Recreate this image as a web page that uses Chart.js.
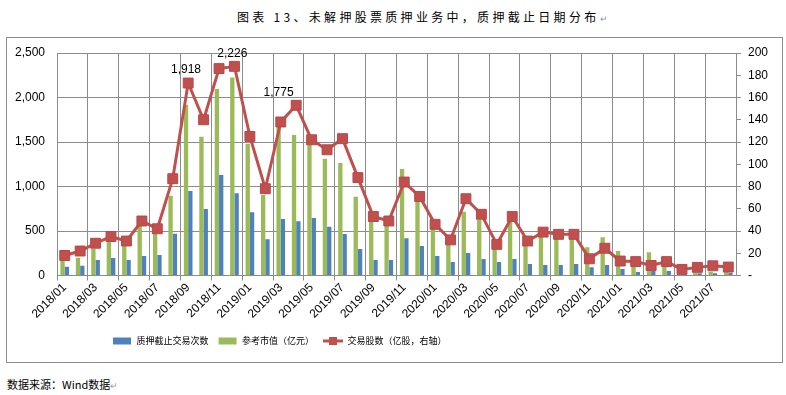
<!DOCTYPE html>
<html>
<head>
<meta charset="utf-8">
<script src="https://cdn.jsdelivr.net/npm/chart.js@4/dist/chart.umd.min.js"></script>
<style>
body { margin: 0; background: #fff; width: 786px; height: 395px; position: relative; overflow: hidden; font-family: "Noto Sans CJK SC", sans-serif; color: #000; }
#title { position: absolute; left: 237px; top: 8px; font-size: 12px; letter-spacing: 3.3px; white-space: nowrap; }
#box { position: absolute; left: 6px; top: 37px; width: 775px; height: 324px; border: 1px solid #8c8c8c; }
#box canvas { display: block; }
#src { position: absolute; left: 7px; top: 376px; font-size: 11px; white-space: nowrap; }
.mark { color: #999; font-size: 9px; }
</style>
</head>
<body>
<div id="title">图表 13、未解押股票质押业务中，质押截止日期分布<span class="mark">↵</span></div>
<div id="box"><canvas id="myChart" width="775" height="324"></canvas></div>
<div id="src">数据来源：Wind数据<span class="mark">↵</span></div>
<script>
// eje X: meses
var months = ['2018/01','2018/02','2018/03','2018/04','2018/05','2018/06','2018/07','2018/08','2018/09','2018/10','2018/11','2018/12',
              '2019/01','2019/02','2019/03','2019/04','2019/05','2019/06','2019/07','2019/08','2019/09','2019/10','2019/11','2019/12',
              '2020/01','2020/02','2020/03','2020/04','2020/05','2020/06','2020/07','2020/08','2020/09','2020/10','2020/11','2020/12',
              '2021/01','2021/02','2021/03','2021/04','2021/05','2021/06','2021/07','2021/08'];
// 质押截止交易次数
var pledgeCount = [99,110,174,196,174,219,230,470,950,747,1130,924,
                   712,408,635,610,646,547,466,298,174,174,418,332,
                   219,153,252,185,152,185,128,117,118,129,92,118,
                   72,39,54,51,20,25,25,31];
// 参考市值（亿元）
var marketValue = [170,200,300,390,335,568,470,895,1918,1560,2096,2226,
                   1480,905,1775,1580,1470,1313,1265,886,624,567,1197,835,
                   540,380,715,624,355,605,380,493,436,420,317,429,
                   275,118,262,118,10,31,43,43];
// 交易股数（亿股，右轴）
var sharesTraded = [18,22,29,35,31,49,42,87,173,140,186,188,
                    125,78,138,153,122,113,123,88,53,49,84,71,
                    46,32,69,55,28,53,31,39,37,37,15,24.5,
                    13,12.5,9,12.5,5.5,7.3,8.7,7.6];
// meses con etiqueta de valor (参考市值)
var labelledMonths = ['2018/09','2018/12','2019/03'];

var leftTicks = { min: 0, max: 2500, step: 500 };
var rightTicks = { min: 0, max: 200, step: 20 };

var BLUE = '#4F81BD', GREEN = '#9BBB59', RED = '#C0504D', GRID = '#8c8c8c';
var tickFont = { family: '"Liberation Sans Narrow", "Liberation Sans", sans-serif', size: 12 };

function swatch(color, isLine) {
    var c = document.createElement('canvas');
    c.width = 20; c.height = 10;
    var g = c.getContext('2d');
    g.fillStyle = color;
    if (isLine) {
        g.strokeStyle = color; g.lineWidth = 3;
        g.beginPath(); g.moveTo(0, 5); g.lineTo(20, 5); g.stroke();
        g.fillRect(6, 1, 8, 8);
    } else {
        g.fillRect(1, 1.5, 18, 7);
    }
    return c;
}
var swatches = [swatch(BLUE), swatch(GREEN), swatch(RED, true)];

// etiquetas 1,918 / 2,226 / 1,775
var valueLabels = {
    id: 'valueLabels',
    afterDatasetsDraw: function (chart) {
        var ctx = chart.ctx;
        var bars = chart.getDatasetMeta(1).data;
        var pts = chart.getDatasetMeta(2).data;
        ctx.save();
        ctx.font = '12px "Liberation Sans Narrow", "Liberation Sans", sans-serif';
        ctx.fillStyle = '#000';
        ctx.textAlign = 'center';
        ctx.textBaseline = 'middle';
        labelledMonths.forEach(function (m) {
            var i = months.indexOf(m);
            var y = Math.min(bars[i].y, pts[i].y - 7, pts[i + 1].y - 7) - 6;
            ctx.fillText(marketValue[i].toLocaleString('en-US'), bars[i].x, y);
        });
        ctx.restore();
    }
};

// leyenda desplazada a la izquierda como en el original
var legendShift = {
    id: 'legendShift',
    beforeDraw: function (chart) {
        var lg = chart.legend;
        var w = lg.right - lg.left;
        lg.left = 96;
        lg.right = 96 + w;
    }
};

function graficar() {
    var ctx = document.getElementById('myChart').getContext('2d');
    return new Chart(ctx, {
        type: 'bar',
        data: {
            labels: months,
            datasets: [{
                label: '质押截止交易次数',
                data: pledgeCount,
                backgroundColor: BLUE,
                yAxisID: 'y',
                order: 2,
                categoryPercentage: 0.56,
                barPercentage: 1
            }, {
                label: '参考市值（亿元）',
                data: marketValue,
                backgroundColor: GREEN,
                yAxisID: 'y',
                order: 1,
                categoryPercentage: 0.56,
                barPercentage: 1
            }, {
                type: 'line',
                label: '交易股数（亿股，右轴）',
                data: sharesTraded,
                borderColor: RED,
                backgroundColor: RED,
                borderWidth: 3,
                pointStyle: 'rect',
                pointRadius: 7,
                pointBorderWidth: 1,
                pointBackgroundColor: RED,
                pointBorderColor: '#b8474a',
                tension: 0,
                yAxisID: 'y2',
                order: 0
            }]
        },
        options: {
            responsive: false,
            animation: false,
            devicePixelRatio: 1,
            layout: { padding: { top: 15, left: 0, right: 0, bottom: 6.5 } },
            plugins: {
                tooltip: { enabled: false },
                legend: {
                    position: 'bottom',
                    align: 'start',
                    labels: {
                        usePointStyle: true,
                        pointStyleWidth: 20,
                        padding: 9,
                        color: '#000',
                        font: { family: '"Noto Sans CJK SC"', size: 9 },
                        sort: function (a, b) { return a.datasetIndex - b.datasetIndex; },
                        generateLabels: function (chart) {
                            var items = Chart.defaults.plugins.legend.labels.generateLabels(chart);
                            items.forEach(function (it) { it.pointStyle = swatches[it.datasetIndex]; });
                            return items;
                        }
                    }
                }
            },
            scales: {
                x: {
                    afterFit: function (s) { s.height = 52; },
                    grid: {
                        offset: true,
                        tickLength: 5,
                        color: function (c) { return c.index % 2 === 0 ? GRID : 'rgba(0,0,0,0)'; }
                    },
                    border: { color: GRID },
                    ticks: {
                        autoSkip: false,
                        minRotation: 45,
                        maxRotation: 45,
                        color: '#000',
                        font: tickFont,
                        padding: 0,
                        callback: function (v, i) { return i % 2 === 0 ? this.getLabelForValue(v) : ''; }
                    }
                },
                y: {
                    position: 'left',
                    min: leftTicks.min,
                    max: leftTicks.max,
                    afterFit: function (s) { s.width = 50; },
                    grid: { color: GRID, tickLength: 10, tickColor: 'rgba(0,0,0,0)' },
                    border: { color: GRID },
                    ticks: {
                        stepSize: leftTicks.step,
                        padding: 2,
                        color: '#000',
                        font: tickFont,
                        callback: function (v) { return v.toLocaleString('en-US'); }
                    }
                },
                y2: {
                    position: 'right',
                    min: rightTicks.min,
                    max: rightTicks.max,
                    afterFit: function (s) { s.width = 46; },
                    grid: { drawOnChartArea: false, color: GRID, tickLength: 5 },
                    border: { color: GRID },
                    ticks: {
                        stepSize: rightTicks.step,
                        padding: 7,
                        color: '#000',
                        font: tickFont,
                        callback: function (v) { return v === 0 ? '-' : v; }
                    }
                }
            }
        },
        plugins: [valueLabels, legendShift]
    });
}

var chart1 = graficar();
</script>
</body>
</html>
